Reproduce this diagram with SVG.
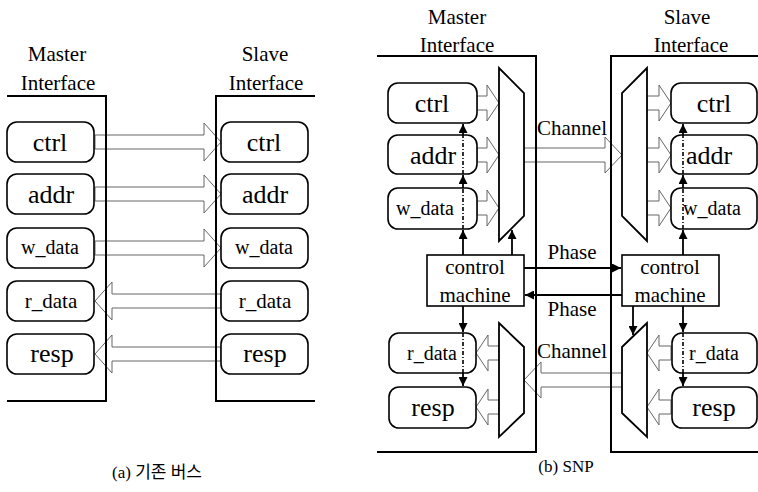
<svg xmlns="http://www.w3.org/2000/svg" width="758" height="492" viewBox="0 0 758 492">
<defs>
<style>
text{font-family:'Liberation Serif','DejaVu Serif','Noto Sans CJK KR',serif}
.t{fill:#000;text-anchor:middle}
.big{font-size:26px}
.mid{font-size:21px}
.sm{font-size:20px}
.hd{font-size:21px}
.cap{font-size:17px;fill:#000;text-anchor:middle}
.node{fill:#fff;stroke:#000;stroke-width:1.6}
.box{fill:#fff;stroke:#000;stroke-width:1.6}
.mux{fill:#fff;stroke:#000;stroke-width:1.8}
.blk{fill:#fff;stroke:#666;stroke-width:1}
.br{fill:none;stroke:#000;stroke-width:2}
.ln{fill:none;stroke:#000;stroke-width:1.8}
.dd{fill:none;stroke:#000;stroke-width:1.6;stroke-dasharray:4,2,1,2}
</style>
<marker id="ah" viewBox="0 0 10 10" refX="10" refY="5" markerWidth="5" markerHeight="5" orient="auto" markerUnits="strokeWidth">
<path d="M0,0 L10,5 L0,10 z" fill="#000"/>
</marker>
</defs>
<g font-family="Liberation Serif, DejaVu Serif, serif">

<!-- (a) conventional bus -->
<g id="a-connectors">
<polygon class="blk" points="95,135 204,135 204,123 221,142 204,161 204,149 95,149"/>
<polygon class="blk" points="95,187 204,187 204,175 221,194 204,213 204,201 95,201"/>
<polygon class="blk" points="95,241 204,241 204,229 221,248 204,267 204,255 95,255"/>
<polygon class="blk" points="221,294 112,294 112,282 95,301 112,320 112,308 221,308"/>
<polygon class="blk" points="221,347 112,347 112,335 95,354 112,373 112,361 221,361"/>
</g>
<g id="a-master">
<path class="br" d="M7,96 H106 V401 H7"/>
<text class="t hd" x="57" y="61">Master</text>
<text class="t hd" x="58" y="90">Interface</text>
</g>
<g id="a-slave">
<path class="br" d="M315,96 H216 V401 H315"/>
<text class="t hd" x="265" y="61">Slave</text>
<text class="t hd" x="266" y="90">Interface</text>
</g>
<g id="a-m-ctrl"><rect class="node" x="7" y="122" width="87" height="40" rx="10"/><text class="t big" x="50" y="151">ctrl</text></g>
<g id="a-m-addr"><rect class="node" x="7" y="174" width="87" height="40" rx="10"/><text class="t big" x="51" y="203">addr</text></g>
<g id="a-m-wdata"><rect class="node" x="7" y="228" width="87" height="40" rx="10"/><text class="t sm" x="50" y="254">w_data</text></g>
<g id="a-m-rdata"><rect class="node" x="7" y="281" width="87" height="40" rx="10"/><text class="t mid" x="51" y="308">r_data</text></g>
<g id="a-m-resp"><rect class="node" x="7" y="334" width="87" height="40" rx="10"/><text class="t big" x="52" y="362">resp</text></g>
<g id="a-s-ctrl"><rect class="node" x="221" y="122" width="87" height="40" rx="10"/><text class="t big" x="264" y="151">ctrl</text></g>
<g id="a-s-addr"><rect class="node" x="221" y="174" width="87" height="40" rx="10"/><text class="t big" x="265" y="203">addr</text></g>
<g id="a-s-wdata"><rect class="node" x="221" y="228" width="87" height="40" rx="10"/><text class="t sm" x="264" y="254">w_data</text></g>
<g id="a-s-rdata"><rect class="node" x="221" y="281" width="87" height="40" rx="10"/><text class="t mid" x="265" y="308">r_data</text></g>
<g id="a-s-resp"><rect class="node" x="221" y="334" width="87" height="40" rx="10"/><text class="t big" x="265" y="362">resp</text></g>
<text class="cap" x="157" y="478">(a) 기존 버스</text>

<!-- (b) SNP -->
<g id="b-connectors">
<polygon class="blk" points="524,148 605,148 605,137 622,155 605,173 605,162 524,162"/>
<polygon class="blk" points="622,373 541,373 541,362 524,380 541,398 541,387 622,387"/>
<polygon class="blk" points="477,96 487,96 487,85 499,103 487,121 487,110 477,110"/>
<polygon class="blk" points="477,148 487,148 487,137 499,155 487,173 487,162 477,162"/>
<polygon class="blk" points="477,201 487,201 487,190 499,208 487,226 487,215 477,215"/>
<polygon class="blk" points="647,96 659,96 659,85 671,103 659,121 659,110 647,110"/>
<polygon class="blk" points="647,148 659,148 659,137 671,155 659,173 659,162 647,162"/>
<polygon class="blk" points="647,201 659,201 659,190 671,208 659,226 659,215 647,215"/>
<polygon class="blk" points="499,346 488,346 488,335 476,353 488,371 488,360 499,360"/>
<polygon class="blk" points="499,400 488,400 488,389 476,407 488,425 488,414 499,414"/>
<polygon class="blk" points="671,346 659,346 659,335 647,353 659,371 659,360 671,360"/>
<polygon class="blk" points="671,400 659,400 659,389 647,407 659,425 659,414 671,414"/>
</g>
<g id="b-master">
<path class="br" d="M377,56 H536 V452 H377"/>
<text class="t hd" x="457" y="24">Master</text>
<text class="t hd" x="457" y="52">Interface</text>
</g>
<g id="b-slave">
<path class="br" d="M758,56 H611 V452 H758"/>
<text class="t hd" x="687" y="24">Slave</text>
<text class="t hd" x="691" y="52">Interface</text>
</g>
<text class="t mid" x="572" y="135">Channel</text>
<text class="t mid" x="572" y="358">Channel</text>
<text class="t mid" x="572" y="259">Phase</text>
<text class="t mid" x="572" y="316">Phase</text>

<g id="b-m-mux-tx"><polygon class="mux" points="499,68 524,93 524,216 499,241"/></g>
<g id="b-m-mux-rx"><polygon class="mux" points="499,323 524,347 524,413 499,437"/></g>
<g id="b-s-mux-rx"><polygon class="mux" points="647,68 622,93 622,216 647,241"/></g>
<g id="b-s-mux-tx"><polygon class="mux" points="647,323 622,347 622,413 647,437"/></g>

<g id="b-m-ctrl"><rect class="node" x="388" y="83" width="89" height="40" rx="10"/><text class="t big" x="432" y="112">ctrl</text></g>
<g id="b-m-addr"><rect class="node" x="388" y="135" width="89" height="39" rx="10"/><text class="t big" x="433" y="164">addr</text></g>
<g id="b-m-wdata"><rect class="node" x="388" y="188" width="89" height="41" rx="10"/><text class="t sm" x="425" y="215">w_data</text></g>
<g id="b-m-rdata"><rect class="node" x="389" y="333" width="87" height="40" rx="10"/><text class="t sm" x="432" y="360">r_data</text></g>
<g id="b-m-resp"><rect class="node" x="389" y="387" width="87" height="41" rx="10"/><text class="t big" x="433" y="416">resp</text></g>
<g id="b-s-ctrl"><rect class="node" x="671" y="83" width="86" height="40" rx="10"/><text class="t big" x="714" y="112">ctrl</text></g>
<g id="b-s-addr"><rect class="node" x="671" y="135" width="86" height="39" rx="10"/><text class="t big" x="709" y="164">addr</text></g>
<g id="b-s-wdata"><rect class="node" x="671" y="188" width="86" height="41" rx="10"/><text class="t sm" x="712" y="215">w_data</text></g>
<g id="b-s-rdata"><rect class="node" x="672" y="333" width="85" height="40" rx="10"/><text class="t sm" x="714" y="360">r_data</text></g>
<g id="b-s-resp"><rect class="node" x="672" y="387" width="85" height="41" rx="10"/><text class="t big" x="714" y="416">resp</text></g>

<g id="b-m-cm"><rect class="box" x="427" y="255" width="97" height="51"/><text class="t mid" x="475" y="274">control</text><text class="t mid" x="475" y="302">machine</text></g>
<g id="b-s-cm"><rect class="box" x="622" y="255" width="97" height="51"/><text class="t mid" x="670" y="274">control</text><text class="t mid" x="670" y="302">machine</text></g>

<g id="b-control-lines">
<line class="ln" x1="524" y1="268" x2="621" y2="268" marker-end="url(#ah)"/>
<line class="ln" x1="622" y1="295" x2="525" y2="295" marker-end="url(#ah)"/>
<line class="ln" x1="512" y1="255" x2="512" y2="230" marker-end="url(#ah)"/>
<line class="ln" x1="463" y1="255" x2="463" y2="230" marker-end="url(#ah)"/>
<line class="dd" x1="463" y1="229" x2="463" y2="188"/>
<line class="ln" x1="463" y1="188" x2="463" y2="175" marker-end="url(#ah)"/>
<line class="dd" x1="463" y1="174" x2="463" y2="135"/>
<line class="ln" x1="463" y1="135" x2="463" y2="124" marker-end="url(#ah)"/>
<line class="ln" x1="463" y1="306" x2="463" y2="332" marker-end="url(#ah)"/>
<line class="dd" x1="463" y1="333" x2="463" y2="373"/>
<line class="ln" x1="463" y1="373" x2="463" y2="386" marker-end="url(#ah)"/>
<line class="ln" x1="683" y1="255" x2="683" y2="230" marker-end="url(#ah)"/>
<line class="dd" x1="683" y1="229" x2="683" y2="188"/>
<line class="ln" x1="683" y1="188" x2="683" y2="175" marker-end="url(#ah)"/>
<line class="dd" x1="683" y1="174" x2="683" y2="135"/>
<line class="ln" x1="683" y1="135" x2="683" y2="124" marker-end="url(#ah)"/>
<line class="ln" x1="633" y1="306" x2="633" y2="335" marker-end="url(#ah)"/>
<line class="ln" x1="683" y1="306" x2="683" y2="332" marker-end="url(#ah)"/>
<line class="dd" x1="683" y1="333" x2="683" y2="373"/>
<line class="ln" x1="683" y1="373" x2="683" y2="386" marker-end="url(#ah)"/>
</g>
<text class="cap" x="566" y="472">(b) SNP</text>
</g>
</svg>
